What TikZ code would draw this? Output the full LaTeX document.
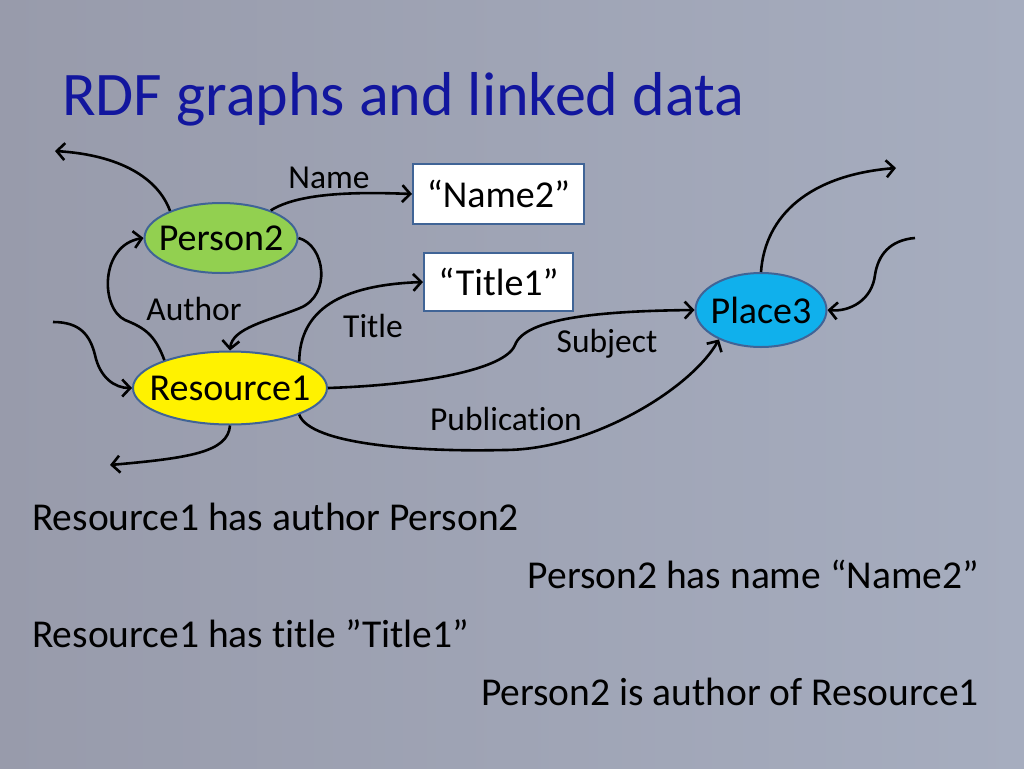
\documentclass[tikz,border=0pt]{standalone}
\usepackage{fontspec}
\setmainfont{Carlito}[Ligatures=NoCommon]
\usetikzlibrary{arrows.meta,shapes.geometric}

\definecolor{slidebgA}{RGB}{152,155,171}
\definecolor{slidebgB}{RGB}{166,173,191}
\definecolor{titleblue}{RGB}{18,22,158}
\definecolor{rimblue}{RGB}{64,100,150}
\definecolor{persongreen}{RGB}{146,208,80}
\definecolor{placeblue}{RGB}{16,176,236}

\begin{document}
\begin{tikzpicture}
      [x=1pt,y=-1pt,
       resource/.style={ellipse,draw=rimblue,line width=2pt,inner ysep=0pt,inner xsep=-20pt,
         font=\fontsize{38}{44}\selectfont},
       literal/.style={rectangle,draw=rimblue,fill=white,line width=2pt,inner sep=0pt,
         font=\fontsize{38}{44}\selectfont},
       property/.style={anchor=base,font=\fontsize{33.5}{40}\selectfont},
       triple/.style={font=\fontsize{39.5}{46}\selectfont},
       >={Straight Barb[length=8pt,width=17pt]}]
      \shade[left color=slidebgA,right color=slidebgB] (0,0) rectangle (1024,768) ;
      \useasboundingbox (0,0) rectangle (1024,768) ;
      \node[anchor=base west,text=titleblue,font=\fontsize{62}{70}\selectfont,inner sep=0pt]
        (title) at (62,115) {RDF graphs and linked data} ;
      \node[resource,fill=persongreen,minimum width=153,minimum height=70] (person2) at (221,238) {Person2} ;
      \node[resource,fill=yellow,minimum width=194,minimum height=73] (resource1) at (230,388) {Resource1} ;
      \node[resource,fill=placeblue,minimum width=131,minimum height=74] (place3) at (761,310) {Place3} ;
      \node[literal,minimum width=171,minimum height=60] (name2) at (498.5,194) {“Name2”} ;
      \node[literal,minimum width=149,minimum height=58] (title1) at (498.5,282) {“Title1”} ;
      \node[property] (lname) at (329,188) {Name} ;
      \node[property] (lauthor) at (194,320) {Author} ;
      \node[property] (ltitle) at (373,337) {Title} ;
      \node[property] (lsubject) at (607,352) {Subject} ;
      \node[property] (lpublication) at (506,430) {Publication} ;
      \coordinate (out1) at (55,151) ;
      \coordinate (in1) at (53,322) ;
      \coordinate (out2) at (110,465) ;
      \coordinate (out3) at (896,168) ;
      \coordinate (in3) at (915,238) ;
      \draw[->,line width=2.6pt] (person2.152) .. controls (158,178) and (120,155) .. (out1) ;
      \draw[->,line width=2.6pt] (person2.29) .. controls (300,192) and (360,192) .. (name2.west) ;
      \draw[->,line width=2.6pt] (person2.east) .. controls (325,245) and (332,295) .. (300,308)
        .. controls (268,321) and (232,328) .. (resource1.north) ;
      \draw[->,line width=2.6pt] (resource1.157) .. controls (155,335) and (145,328) .. (125,320)
        .. controls (100,308) and (100,245) .. (person2.west) ;
      \draw[->,line width=2.6pt] (in1) .. controls (80,322) and (90,335) .. (95,355)
        .. controls (100,378) and (115,388) .. (resource1.west) ;
      \draw[->,line width=2.6pt] (resource1.south) .. controls (228,452) and (190,458) .. (out2) ;
      \draw[->,line width=2.6pt] (resource1.21) .. controls (300,310) and (340,285) .. (title1.west) ;
      \draw[->,line width=2.6pt] (resource1.east) .. controls (420,385) and (505,370) .. (515,345)
        .. controls (525,318) and (600,311) .. (place3.west) ;
      \draw[->,line width=2.6pt] (resource1.339) .. controls (310,445) and (420,452) .. (504,450)
        .. controls (590,450) and (690,390) .. (place3.215) ;
      \draw[->,line width=2.6pt] (place3.north) .. controls (765,215) and (810,175) .. (out3) ;
      \draw[->,line width=2.6pt] (in3) .. controls (890,240) and (878,255) .. (875,275)
        .. controls (872,300) and (850,312) .. (place3.east) ;
      \node[triple,anchor=base west,inner sep=0pt] (fact1) at (32,530) {Resource1 has author Person2} ;
      \node[triple,anchor=base east,inner sep=0pt] (fact2) at (979,588) {Person2 has name “Name2”} ;
      \node[triple,anchor=base west,inner sep=0pt] (fact3) at (32,647) {Resource1 has title ”Title1”} ;
      \node[triple,anchor=base east,inner sep=0pt] (fact4) at (979,705) {Person2 is author of Resource1} ;
    \end{tikzpicture}
\end{document}
